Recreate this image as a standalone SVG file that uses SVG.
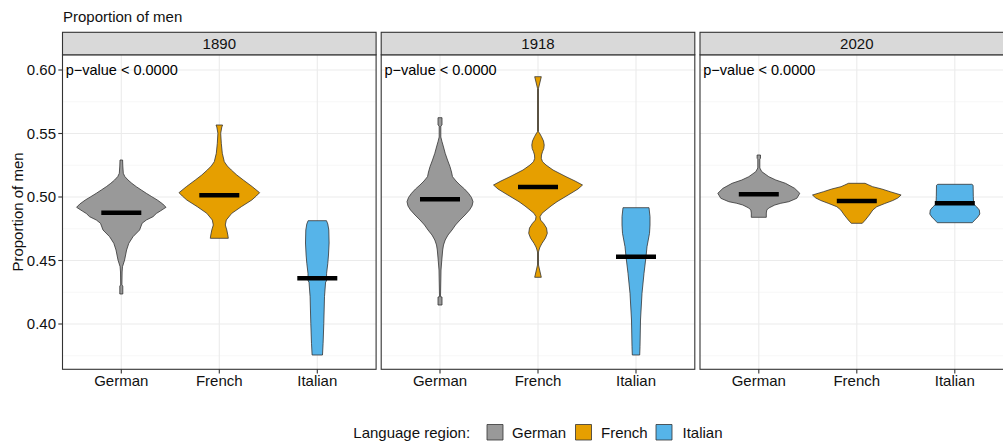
<svg xmlns="http://www.w3.org/2000/svg" width="1003" height="441" viewBox="0 0 1003 441">
<style>
text{font-family:"Liberation Sans",Arial,sans-serif;fill:#111111}
.t15{font-size:15px}
.pv{font-size:14.5px;fill:#000}
.ax{font-size:15px;text-anchor:end}
.xl{font-size:15px;text-anchor:middle}
.st{font-size:15px;text-anchor:middle}
.gmaj{stroke:#EBEBEB;stroke-width:1.1;fill:none}
.gmin{stroke:#F2F2F2;stroke-width:0.6;fill:none}
.border{fill:none;stroke:#333333;stroke-width:1.1}
.strip{fill:#D9D9D9;stroke:#333333;stroke-width:1.1}
.tick{stroke:#333333;stroke-width:1.1}
.v{stroke:#333333;stroke-width:0.8;stroke-linejoin:round}
.de{fill:#999999}
.fr{fill:#E69F00}
.it{fill:#56B4E9}
.mean{stroke:#000;stroke-width:4.4}
</style>
<defs>
<g id="grid">
<line class="gmin" x1="0" x2="313.6" y1="101.75" y2="101.75"/>
<line class="gmin" x1="0" x2="313.6" y1="165.25" y2="165.25"/>
<line class="gmin" x1="0" x2="313.6" y1="228.75" y2="228.75"/>
<line class="gmin" x1="0" x2="313.6" y1="292.25" y2="292.25"/>
<line class="gmin" x1="0" x2="313.6" y1="355.75" y2="355.75"/>
<line class="gmaj" x1="0" x2="313.6" y1="70" y2="70"/>
<line class="gmaj" x1="0" x2="313.6" y1="133.5" y2="133.5"/>
<line class="gmaj" x1="0" x2="313.6" y1="197" y2="197"/>
<line class="gmaj" x1="0" x2="313.6" y1="260.5" y2="260.5"/>
<line class="gmaj" x1="0" x2="313.6" y1="324" y2="324"/>
<line class="gmaj" x1="58.8" x2="58.8" y1="54.8" y2="369.3"/>
<line class="gmaj" x1="156.8" x2="156.8" y1="54.8" y2="369.3"/>
<line class="gmaj" x1="254.8" x2="254.8" y1="54.8" y2="369.3"/>
</g>
<g id="xticks">
<line class="tick" x1="58.8" x2="58.8" y1="369.3" y2="373.5"/>
<line class="tick" x1="156.8" x2="156.8" y1="369.3" y2="373.5"/>
<line class="tick" x1="254.8" x2="254.8" y1="369.3" y2="373.5"/>
<text class="xl" x="58.8" y="385.5">German</text>
<text class="xl" x="156.8" y="385.5">French</text>
<text class="xl" x="254.8" y="385.5">Italian</text>
</g>
</defs>

<text class="t15" x="63" y="22">Proportion of men</text>
<text class="t15" text-anchor="middle" transform="translate(22.5,212) rotate(-90)">Proportion of men</text>

<g id="yaxis">
<line class="tick" x1="58.3" x2="62.5" y1="70" y2="70"/>
<line class="tick" x1="58.3" x2="62.5" y1="133.5" y2="133.5"/>
<line class="tick" x1="58.3" x2="62.5" y1="197" y2="197"/>
<line class="tick" x1="58.3" x2="62.5" y1="260.5" y2="260.5"/>
<line class="tick" x1="58.3" x2="62.5" y1="324" y2="324"/>
<text class="ax" x="56" y="75.3">0.60</text>
<text class="ax" x="56" y="138.8">0.55</text>
<text class="ax" x="56" y="202.3">0.50</text>
<text class="ax" x="56" y="265.8">0.45</text>
<text class="ax" x="56" y="329.3">0.40</text>
</g>

<g id="panel-1890">
<rect x="62.5" y="54.8" width="313.6" height="314.5" fill="#fff"/>
<use href="#grid" x="62.5"/>
<g id="violin-1890-german" transform="translate(121.3,0)">
<path class="v de" d="M1.3,160 L1.5,166 L2,173.3 L3.5,176.5 L6.7,180 L10.5,183.3 L15,186.7 L20,190 L25,193.3 L30.5,196.7 L36,200 L41.5,204 L44.7,207.3 L39,211 L35,213.5 L31.7,216.7 L25,220 L20.8,223.3 L18.3,230 L11.7,236.7 L7.5,243.3 L5.3,250 L3.3,260 L1.2,266.7 L0.8,272 L0.6,285 L1.5,286 L1.5,294 L-1.5,294 L-1.5,286 L-0.6,285 L-0.8,272 L-1.2,266.7 L-3.3,260 L-5.3,250 L-7.5,243.3 L-11.7,236.7 L-18.3,230 L-20.8,223.3 L-25,220 L-31.7,216.7 L-35,213.5 L-39,211 L-44.7,207.3 L-41.5,204 L-36,200 L-30.5,196.7 L-25,193.3 L-20,190 L-15,186.7 L-10.5,183.3 L-6.7,180 L-3.5,176.5 L-2,173.3 L-1.5,166 L-1.3,160 Z"/>
<line class="mean" x1="-20" x2="20" y1="212.7" y2="212.7"/>
</g>
<g id="violin-1890-french" transform="translate(219.3,0)">
<path class="v fr" d="M3.3,125 L2.5,127 L1.4,133.3 L2,143.3 L3,153.3 L5,161.7 L8,166 L12,170 L17.5,175 L24,180 L33,186.7 L40.3,192.7 L37,196 L32.5,200 L22,206.7 L12.5,213.3 L7,220 L6,225 L7.5,230 L8.5,235 L9,238.3 L-9,238.3 L-8.5,235 L-7.5,230 L-6,225 L-7,220 L-12.5,213.3 L-22,206.7 L-32.5,200 L-37,196 L-40.3,192.7 L-33,186.7 L-24,180 L-17.5,175 L-12,170 L-8,166 L-5,161.7 L-3,153.3 L-2,143.3 L-1.4,133.3 L-2.5,127 L-3.3,125 Z"/>
<line class="mean" x1="-20" x2="20" y1="195.3" y2="195.3"/>
</g>
<g id="violin-1890-italian" transform="translate(317.3,0)">
<path class="v it" d="M9.2,220.7 L10.5,224 L11.5,230 L11.8,243 L11.2,255 L10.5,263.3 L9.3,273.3 L9.2,281 L8.3,282 L7.2,296.7 L6.5,323.3 L5.8,343.3 L5.2,355 L-5.2,355 L-5.8,343.3 L-6.5,323.3 L-7.2,296.7 L-8.3,282 L-9.2,281 L-9.3,273.3 L-10.5,263.3 L-11.2,255 L-11.8,243 L-11.5,230 L-10.5,224 L-9.2,220.7 Z"/>
<line class="mean" x1="-20" x2="20" y1="278.3" y2="278.3"/>
</g>
<text class="pv" x="65.7" y="75.3">p−value &lt; 0.0000</text>
<rect class="border" x="62.5" y="54.8" width="313.6" height="314.5"/>
<rect class="strip" x="62.5" y="32.3" width="313.6" height="22.5"/>
<text class="st" x="219.3" y="49.3">1890</text>
<use href="#xticks" x="62.5"/>
</g>

<g id="panel-1918">
<rect x="381.2" y="54.8" width="313.6" height="314.5" fill="#fff"/>
<use href="#grid" x="381.2"/>
<g id="violin-1918-german" transform="translate(440,0)">
<path class="v de" d="M2,117.7 L2,125 L0.8,126 L0.8,137 L2,141.7 L3.5,147 L5.2,153.3 L7.5,160 L10,166.7 L11.5,172 L12.5,176.7 L16,181 L20,185 L24.5,189 L28.5,193.3 L31.5,197.5 L33,201.7 L32,206 L29.5,210 L25,215 L20,220 L15.5,225 L12,230 L8,235 L5.2,240 L3.5,245 L2.7,250 L1.8,260 L1,270 L0.5,296.7 L2,297 L2,305 L-2,305 L-2,297 L-0.5,296.7 L-1,270 L-1.8,260 L-2.7,250 L-3.5,245 L-5.2,240 L-8,235 L-12,230 L-15.5,225 L-20,220 L-25,215 L-29.5,210 L-32,206 L-33,201.7 L-31.5,197.5 L-28.5,193.3 L-24.5,189 L-20,185 L-16,181 L-12.5,176.7 L-11.5,172 L-10,166.7 L-7.5,160 L-5.2,153.3 L-3.5,147 L-2,141.7 L-0.8,137 L-0.8,126 L-2,125 L-2,117.7 Z"/>
<line class="mean" x1="-20" x2="20" y1="199.3" y2="199.3"/>
</g>
<g id="violin-1918-french" transform="translate(538,0)">
<path class="v fr" d="M3.3,76.7 L0.5,88.3 L0.5,131.7 L2,134 L3.5,136.7 L5.5,141 L6.2,145 L5.8,148.5 L4.5,151.7 L3.5,155 L3.3,158.3 L4.5,161.7 L8,165 L15,170 L28,176.7 L37,181 L44.5,185 L40,189 L33,193.3 L26,197.5 L19,201.7 L13,206 L8,210 L4,213.3 L2,216.7 L2.5,220 L5.5,223.3 L8.5,228 L9.3,233.3 L7.5,238 L4,243.3 L2,247 L1,250 L0.5,252 L0.5,265 L3.3,277.3 L-3.3,277.3 L-0.5,265 L-0.5,252 L-1,250 L-2,247 L-4,243.3 L-7.5,238 L-9.3,233.3 L-8.5,228 L-5.5,223.3 L-2.5,220 L-2,216.7 L-4,213.3 L-8,210 L-13,206 L-19,201.7 L-26,197.5 L-33,193.3 L-40,189 L-44.5,185 L-37,181 L-28,176.7 L-15,170 L-8,165 L-4.5,161.7 L-3.3,158.3 L-3.5,155 L-4.5,151.7 L-5.8,148.5 L-6.2,145 L-5.5,141 L-3.5,136.7 L-2,134 L-0.5,131.7 L-0.5,88.3 L-3.3,76.7 Z"/>
<line class="mean" x1="-20" x2="20" y1="187" y2="187"/>
</g>
<g id="violin-1918-italian" transform="translate(636,0)">
<path class="v it" d="M13,207.7 L14,216.7 L14,225 L13.5,233.3 L11,246.7 L10,256.7 L8,273.3 L6,293.3 L4.5,320 L4,346.7 L3.7,355 L-3.7,355 L-4,346.7 L-4.5,320 L-6,293.3 L-8,273.3 L-10,256.7 L-11,246.7 L-13.5,233.3 L-14,225 L-14,216.7 L-13,207.7 Z"/>
<line class="mean" x1="-20" x2="20" y1="256.7" y2="256.7"/>
</g>
<text class="pv" x="384.5" y="75.3">p−value &lt; 0.0000</text>
<rect class="border" x="381.2" y="54.8" width="313.6" height="314.5"/>
<rect class="strip" x="381.2" y="32.3" width="313.6" height="22.5"/>
<text class="st" x="538" y="49.3">1918</text>
<use href="#xticks" x="381.2"/>
</g>

<g id="panel-2020">
<rect x="700" y="54.8" width="313.6" height="314.5" fill="#fff"/>
<use href="#grid" x="700"/>
<g id="violin-2020-german" transform="translate(758.8,0)">
<path class="v de" d="M1.7,155 L1.7,158.3 L1,159 L1,168 L3,171.7 L10,176.7 L17,180 L26.7,183.3 L35.8,188.3 L41,193.3 L38,198.3 L30,201.7 L22,203.3 L16,205 L10,208 L8,210 L7.5,213 L7.5,217.3 L-7.5,217.3 L-7.5,213 L-8,210 L-10,208 L-16,205 L-22,203.3 L-30,201.7 L-38,198.3 L-41,193.3 L-35.8,188.3 L-26.7,183.3 L-17,180 L-10,176.7 L-3,171.7 L-1,168 L-1,159 L-1.7,158.3 L-1.7,155 Z"/>
<line class="mean" x1="-20" x2="20" y1="194.3" y2="194.3"/>
</g>
<g id="violin-2020-french" transform="translate(856.8,0)">
<path class="v fr" d="M8.3,183.3 L12,185 L15.8,186.7 L25,189 L33.3,191.7 L44.3,195 L41,198 L36,200.5 L28,203.5 L20,206.7 L16,210 L12.5,215 L8.5,220 L5.5,223.3 L-5.5,223.3 L-8.5,220 L-12.5,215 L-16,210 L-20,206.7 L-28,203.5 L-36,200.5 L-41,198 L-44.3,195 L-33.3,191.7 L-25,189 L-15.8,186.7 L-12,185 L-8.3,183.3 Z"/>
<line class="mean" x1="-20" x2="20" y1="201" y2="201"/>
</g>
<g id="violin-2020-italian" transform="translate(954.8,0)">
<path class="v it" d="M17,184.3 L18.3,185.3 L18.5,196.7 L18.8,204 L22,207 L24.5,210 L25,214 L23,217 L20,220 L17.5,222.7 L-17.5,222.7 L-20,220 L-23,217 L-25,214 L-24.5,210 L-22,207 L-18.8,204 L-18.5,196.7 L-18.3,185.3 L-17,184.3 Z"/>
<line class="mean" x1="-20" x2="20" y1="203.3" y2="203.3"/>
</g>
<text class="pv" x="703.3" y="75.3">p−value &lt; 0.0000</text>
<rect class="border" x="700" y="54.8" width="313.6" height="314.5"/>
<rect class="strip" x="700" y="32.3" width="313.6" height="22.5"/>
<text class="st" x="856.8" y="49.3">2020</text>
<use href="#xticks" x="700"/>
</g>

<g id="legend">
<text class="t15" x="353.3" y="437.5">Language region:</text>
<rect class="v de" x="487" y="424.5" width="16" height="15.5"/>
<text class="t15" x="512" y="437.5">German</text>
<rect class="v fr" x="575.5" y="424.5" width="16" height="15.5"/>
<text class="t15" x="601" y="437.5">French</text>
<rect class="v it" x="656" y="424.5" width="16" height="15.5"/>
<text class="t15" x="682.5" y="437.5">Italian</text>
</g>
</svg>
